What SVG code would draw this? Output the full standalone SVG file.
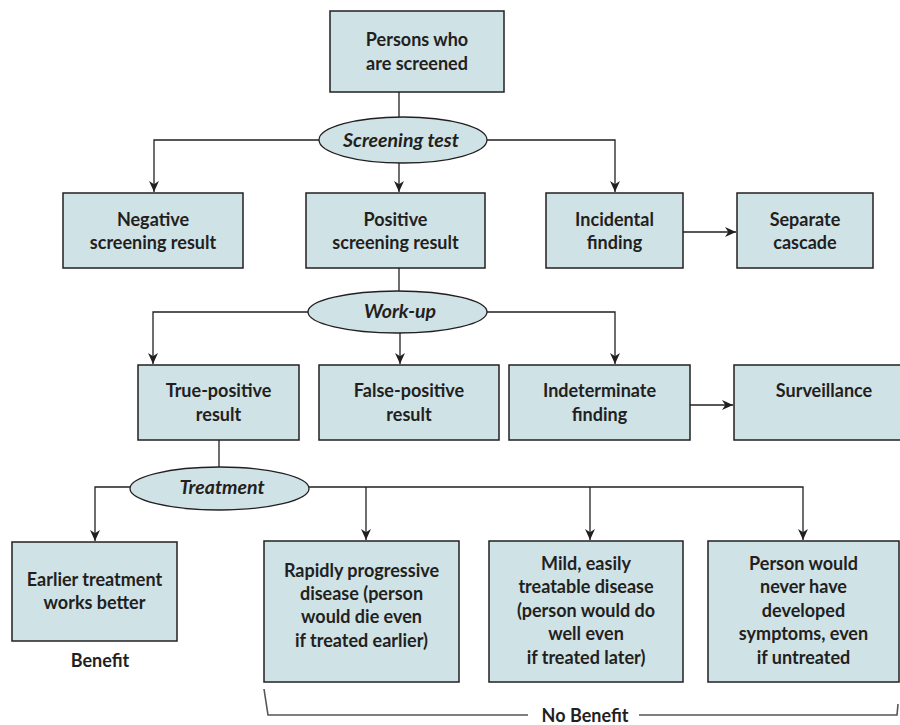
<svg xmlns="http://www.w3.org/2000/svg" width="900" height="725" viewBox="0 0 900 725">
<defs>
<marker id="arr" viewBox="0 0 10 10" refX="10" refY="5" markerWidth="11" markerHeight="11" markerUnits="userSpaceOnUse" orient="auto">
<path d="M0,0.5 L10,5 L0,9.5 L3,5 z" fill="#231f20"/>
</marker>
<style>
.box{fill:#cfe2e6;stroke:#231f20;stroke-width:1.5}
.ell{fill:#cfe2e6;stroke:#231f20;stroke-width:1.3}
.t{font-family:Lato,"Open Sans","Liberation Sans",sans-serif;font-weight:bold;font-size:18px;fill:#231f20;text-anchor:middle}
.it{font-style:italic;font-size:19.5px}
.c{fill:none;stroke:#231f20;stroke-width:1.3}
.br{fill:none;stroke:#555;stroke-width:1.6}
</style>
</defs>
<g id="connectors">
<path class="c" d="M399,92 V117"/>
<path class="c" d="M320,140 H154 V192" marker-end="url(#arr)"/>
<path class="c" d="M399,163 V192" marker-end="url(#arr)"/>
<path class="c" d="M487,140 H615 V192" marker-end="url(#arr)"/>
<path class="c" d="M683,232 H736" marker-end="url(#arr)"/>
<path class="c" d="M399,268 V291"/>
<path class="c" d="M308,312 H153 V364" marker-end="url(#arr)"/>
<path class="c" d="M400,333 V364" marker-end="url(#arr)"/>
<path class="c" d="M487,312 H615 V364" marker-end="url(#arr)"/>
<path class="c" d="M690,405 H733" marker-end="url(#arr)"/>
<path class="c" d="M219,440 V467"/>
<path class="c" d="M130,487 H95 V541" marker-end="url(#arr)"/>
<path class="c" d="M309,487 H803 V540" marker-end="url(#arr)"/>
<path class="c" d="M366,487 V540" marker-end="url(#arr)"/>
<path class="c" d="M590,487 V540" marker-end="url(#arr)"/>
</g>
<g id="persons"><rect class="box" x="330" y="11" width="174" height="81"/><text class="t" x="417" y="46">Persons who</text><text class="t" x="417" y="70">are screened</text></g>
<g id="screening-test"><ellipse class="ell" cx="403" cy="140" rx="84" ry="23"/><text class="t it" x="401" y="147">Screening test</text></g>
<g id="negative"><rect class="box" x="63" y="193" width="180" height="75"/><text class="t" x="153" y="226">Negative</text><text class="t" x="153" y="249">screening result</text></g>
<g id="positive"><rect class="box" x="306" y="193" width="179" height="75"/><text class="t" x="395.5" y="226">Positive</text><text class="t" x="395.5" y="249">screening result</text></g>
<g id="incidental"><rect class="box" x="546" y="193" width="137" height="75"/><text class="t" x="614.5" y="226">Incidental</text><text class="t" x="614.5" y="249">finding</text></g>
<g id="separate"><rect class="box" x="737" y="193" width="136" height="75"/><text class="t" x="805" y="226">Separate</text><text class="t" x="805" y="249">cascade</text></g>
<g id="work-up"><ellipse class="ell" cx="397.5" cy="312" rx="89.5" ry="21"/><text class="t it" x="400" y="318">Work-up</text></g>
<g id="true-positive"><rect class="box" x="138" y="365" width="161" height="75"/><text class="t" x="218.5" y="397">True-positive</text><text class="t" x="218.5" y="421">result</text></g>
<g id="false-positive"><rect class="box" x="319" y="365" width="180" height="75"/><text class="t" x="409" y="397">False-positive</text><text class="t" x="409" y="421">result</text></g>
<g id="indeterminate"><rect class="box" x="509" y="365" width="181" height="75"/><text class="t" x="599.5" y="397">Indeterminate</text><text class="t" x="599.5" y="421">finding</text></g>
<g id="surveillance"><rect class="box" x="734" y="365" width="180" height="75"/><text class="t" x="824" y="397">Surveillance</text></g>
<g id="treatment"><ellipse class="ell" cx="219.5" cy="488.5" rx="89.5" ry="21.5"/><text class="t it" x="222" y="494">Treatment</text></g>
<g id="earlier"><rect class="box" x="12" y="542" width="165" height="99"/><text class="t" x="94.5" y="586">Earlier treatment</text><text class="t" x="94.5" y="609">works better</text></g>
<g id="benefit"><text class="t" x="100" y="667">Benefit</text></g>
<g id="rapidly"><rect class="box" x="264" y="541" width="195" height="141"/><text class="t" x="361.5" y="577">Rapidly progressive</text><text class="t" x="361.5" y="600">disease (person</text><text class="t" x="361.5" y="623">would die even</text><text class="t" x="361.5" y="647">if treated earlier)</text></g>
<g id="mild"><rect class="box" x="489" y="541" width="194" height="141"/><text class="t" x="586" y="570">Mild, easily</text><text class="t" x="586" y="593">treatable disease</text><text class="t" x="586" y="617">(person would do</text><text class="t" x="586" y="640">well even</text><text class="t" x="586" y="664">if treated later)</text></g>
<g id="never"><rect class="box" x="708" y="541" width="191" height="141"/><text class="t" x="803.5" y="570">Person would</text><text class="t" x="803.5" y="593">never have</text><text class="t" x="803.5" y="617">developed</text><text class="t" x="803.5" y="640">symptoms, even</text><text class="t" x="803.5" y="664">if untreated</text></g>
<g id="no-benefit"><path class="br" d="M264,689 L268,715 H528"/><path class="br" d="M639,715 H897 L898,704"/><text class="t" x="585" y="722">No Benefit</text></g>
</svg>
